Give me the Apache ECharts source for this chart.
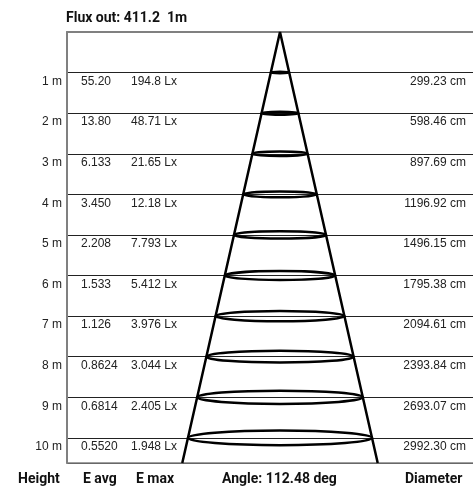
<!DOCTYPE html>
<html>
<head>
<meta charset="utf-8">
<script src="https://cdn.jsdelivr.net/npm/echarts@6/dist/echarts.min.js"></script>
<style>
    html, body { margin: 0; padding: 0; background: #fff; }
    #main { width: 473px; height: 487px; }
</style>
</head>
<body>
<div id="main"></div>
<script>
// values
const heights = [1, 2, 3, 4, 5, 6, 7, 8, 9, 10];
const eAvg = [55.20, 13.80, 6.133, 3.450, 2.208, 1.533, 1.126, 0.8624, 0.6814, 0.5520];
const eMax = [194.8, 48.71, 21.65, 12.18, 7.793, 5.412, 3.976, 3.044, 2.405, 1.948];
const diameters = [299.23, 598.46, 897.69, 1196.92, 1496.15, 1795.38, 2094.61, 2393.84, 2693.07, 2992.30];
const fluxOut = "411.2";
const beamAngle = "112.48";

const yMax = 10.62;
const last = heights.length - 1;
const edgeRadius = diameters[last] / 2 * yMax / heights[last];
const cone = [[-edgeRadius, yMax], [0, 0], [edgeRadius, yMax]];
const rows = heights.map((h, i) => [h, eAvg[i], eMax[i], diameters[i]]);

const labelFont = "'Liberation Sans', Arial, sans-serif";
const boldFont = "Roboto, sans-serif";

const chart = echarts.init(document.getElementById("main"));

const frameAxis = (pos, w) => ({
    type: "value",
    position: pos,
    min: -3463,
    max: 3138,
    axisLine: { show: true, onZero: false, lineStyle: { color: "#808080", width: w } },
    axisTick: { show: false },
    axisLabel: { show: false },
    splitLine: { show: false }
});

const footer = (x, s) => ({
    type: "text", left: x, top: 472,
    style: { text: s, font: "bold 14px " + boldFont, fill: "#111" }
});

const option = {
    animation: false,
    title: {
        text: "Flux out: " + fluxOut + "  1m",
        left: 61,
        top: 6,
        textStyle: { fontFamily: boldFont, fontWeight: "bold", fontSize: 14, color: "#111" }
    },
    grid: { left: 67, right: 0, top: 32, bottom: 24 },
    xAxis: [frameAxis("top", 2), frameAxis("bottom", 1.5)],
    yAxis: {
        type: "value",
        inverse: true,
        min: 0,
        max: yMax,
        interval: 1,
        axisLine: { show: true, onZero: false, lineStyle: { color: "#808080", width: 2 } },
        axisTick: { show: false },
        axisLabel: {
            margin: 5,
            verticalAlign: "top",
            padding: [3, 0, 0, 0],
            fontFamily: labelFont,
            fontSize: 12,
            color: "#222",
            formatter: v => (Number.isInteger(v) && v > 0) ? v + " m" : ""
        },
        splitLine: { show: true, lineStyle: { color: "#222", width: 1 } }
    },
    series: [
        {
            name: "cone",
            type: "line",
            data: cone,
            symbol: "none",
            lineStyle: { color: "#000", width: 2.5 },
            z: 3
        },
        {
            name: "rows",
            type: "custom",
            data: rows,
            encode: { x: 3, y: 0 },
            z: 4,
            renderItem: function (params, api) {
                const h = api.value(0);
                const d = api.value(3);
                const c = api.coord([0, h]);
                const e = api.coord([d / 2, h]);
                const rx = e[0] - c[0];
                const sys = params.coordSys;
                const ty = c[1] + 9;
                const txt = (x, s, align) => ({
                    type: "text",
                    style: {
                        x: x, y: ty, text: s, align: align, verticalAlign: "middle",
                        font: "12px " + labelFont, fill: "#222"
                    }
                });
                return {
                    type: "group",
                    children: [
                        {
                            type: "ellipse",
                            shape: { cx: c[0], cy: c[1], rx: rx, ry: rx * 0.08 },
                            style: { fill: "none", stroke: "#000", lineWidth: 2.5 }
                        },
                        txt(sys.x + 14, api.value(1).toPrecision(4), "left"),
                        txt(sys.x + 64, api.value(2).toPrecision(4) + " Lx", "left"),
                        txt(sys.x + sys.width - 7, api.value(3).toFixed(2) + " cm", "right")
                    ]
                };
            }
        }
    ],
    graphic: [
        footer(18, "Height"),
        footer(83, "E avg"),
        footer(136, "E max"),
        footer(222, "Angle: " + beamAngle + " deg"),
        footer(405, "Diameter")
    ]
};

chart.setOption(option);
</script>
</body>
</html>
